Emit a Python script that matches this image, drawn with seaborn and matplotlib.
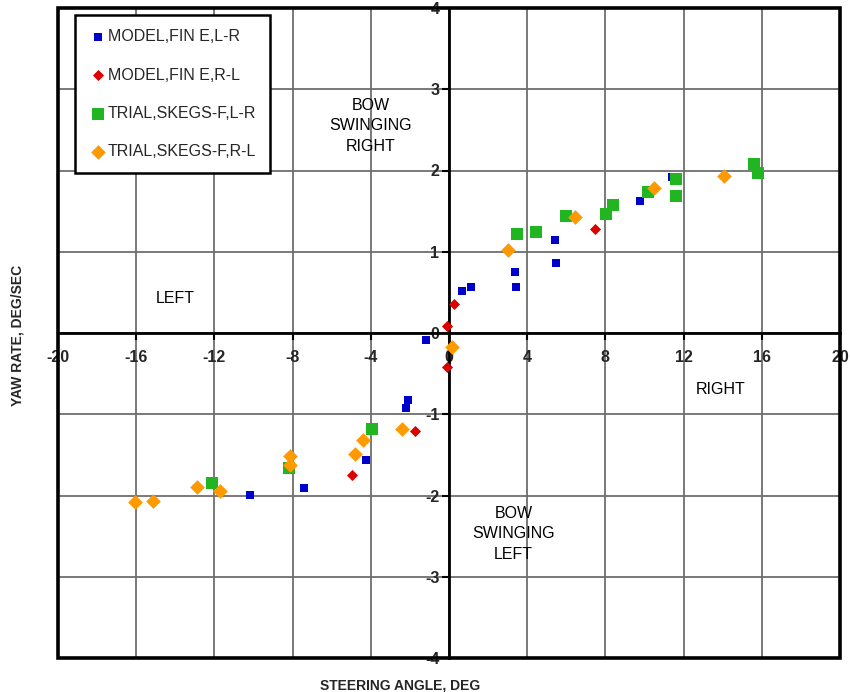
import matplotlib
matplotlib.use("Agg")
import matplotlib.pyplot as plt
import seaborn as sns
import pandas as pd
from matplotlib.patches import Rectangle

sns.set_theme(style="white")
plt.rcParams["font.family"] = ["Liberation Sans", "DejaVu Sans"]
plt.rcParams["axes.unicode_minus"] = False

# Steering angle (deg) vs yaw rate (deg/sec)
model_lr_x = [0.65, 1.14, 3.37, 3.44, 5.40, 5.48, 9.75, 11.40, -1.19, -2.08, -2.18, -4.22, -7.42, -10.16]
model_lr_y = [0.52, 0.57, 0.75, 0.57, 1.15, 0.865, 1.62, 1.92, -0.08, -0.82, -0.92, -1.56, -1.91, -1.99]

model_rl_x = [-0.09, 0.24, 7.49, -0.10, -1.74, -4.97]
model_rl_y = [0.09, 0.36, 1.28, -0.42, -1.20, -1.75]

trial_lr_x = [3.46, 4.46, 5.98, 8.04, 8.39, 10.18, 11.63, 11.63, 15.58, 15.83, -3.92, -8.17, -12.12]
trial_lr_y = [1.22, 1.24, 1.44, 1.47, 1.57, 1.74, 1.89, 1.69, 2.08, 1.97, -1.18, -1.66, -1.85]

trial_rl_x = [0.14, 3.03, 6.42, 10.47, 14.06, -2.42, -4.39, -4.80, -8.12, -8.12, -12.90, -11.70, -16.07, -15.13]
trial_rl_y = [-0.17, 1.02, 1.43, 1.78, 1.93, -1.18, -1.32, -1.49, -1.51, -1.62, -1.89, -1.95, -2.08, -2.07]

series_names = ["MODEL,FIN E,L-R", "MODEL,FIN E,R-L", "TRIAL,SKEGS-F,L-R", "TRIAL,SKEGS-F,R-L"]
series_x = [model_lr_x, model_rl_x, trial_lr_x, trial_rl_x]
series_y = [model_lr_y, model_rl_y, trial_lr_y, trial_rl_y]
colors = ["#0000CC", "#DD0000", "#22B522", "#FF9900"]
markers = ["s", "D", "s", "D"]
sizes = [40, 32, 80, 56]

x_ticks = [-20, -16, -12, -8, -4, 0, 4, 8, 12, 16, 20]
y_ticks = [-4, -3, -2, -1, 0, 1, 2, 3, 4]

fig = plt.figure(figsize=(8.5, 6.92), dpi=100)
ax = fig.add_axes([58 / 850, 1 - 658 / 692, 782 / 850, 650 / 692])

frames = []
for name, xs, ys in zip(series_names, series_x, series_y):
    frames.append(pd.DataFrame({"x": xs, "y": ys, "series": name}))
df = pd.concat(frames, ignore_index=True)

for name, c, m, s in zip(series_names, colors, markers, sizes):
    sub = df[df["series"] == name]
    sns.scatterplot(data=sub, x="x", y="y", ax=ax, color=c, marker=m, s=s,
                    linewidth=0, label=name, zorder=5)

ax.set_xlim(-20, 20)
ax.set_ylim(-4, 4)
ax.set_xticks(x_ticks)
ax.set_yticks(y_ticks)
ax.grid(True, color="#6e6e6e", linewidth=1.3, zorder=0)

# central axes through the origin
for side in ["top", "right"]:
    ax.spines[side].set_visible(False)
ax.spines["left"].set_position("zero")
ax.spines["bottom"].set_position("zero")
for side in ["left", "bottom"]:
    ax.spines[side].set_linewidth(2.0)
    ax.spines[side].set_color("black")
    ax.spines[side].set_zorder(3)

ax.tick_params(axis="both", which="major", direction="out", length=5, width=1.5,
               color="black", labelsize=11.5)
ax.tick_params(axis="x", bottom=True, pad=7)
ax.tick_params(axis="y", left=True, pad=2)
for lab in ax.get_xticklabels() + ax.get_yticklabels():
    lab.set_fontweight("bold")

# outer frame
ax.add_patch(Rectangle((0, 0), 1, 1, transform=ax.transAxes, fill=False,
                       edgecolor="black", linewidth=2.6, zorder=6, clip_on=False))

ax.set_xlabel("")
ax.set_ylabel("")
fig.text(400 / 850, 1 - 686 / 692, "STEERING ANGLE, DEG", ha="center", va="center",
         fontsize=10, fontweight="bold", fontstretch="condensed")
fig.text(18 / 850, 1 - 335 / 692, "YAW RATE, DEG/SEC", ha="center", va="center",
         rotation=90, fontsize=10, fontweight="bold", fontstretch="condensed")

txt_kw = dict(ha="center", va="center", fontsize=11.5, color="black", zorder=7)
ax.text(-4.0, 2.55, "BOW\nSWINGING\nRIGHT", linespacing=1.45, **txt_kw)
ax.text(-14.0, 0.43, "LEFT", **txt_kw)
ax.text(13.9, -0.70, "RIGHT", **txt_kw)
ax.text(3.3, -2.47, "BOW\nSWINGING\nLEFT", linespacing=1.45, **txt_kw)

leg = ax.legend(loc="upper left", bbox_to_anchor=(17 / 782, 1 - 7 / 650), fontsize=11.5,
                frameon=True, fancybox=False, framealpha=1, edgecolor="black",
                labelspacing=1.45, handletextpad=0.05, handlelength=1.1,
                borderpad=0.9, borderaxespad=0)
leg.get_frame().set_linewidth(1.8)
leg.set_zorder(8)

fig.savefig("out.png", dpi=100)
